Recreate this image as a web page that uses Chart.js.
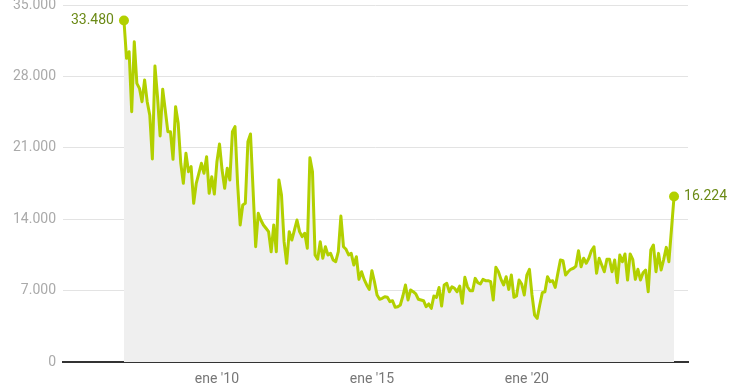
<!DOCTYPE html>
<html>
<head>
<meta charset="utf-8">
<script src="https://cdn.jsdelivr.net/npm/chart.js@4/dist/chart.umd.min.js"></script>
<style>
  html, body { margin: 0; padding: 0; background: #fff; }
  #wrap { width: 740px; height: 389px; position: relative; }
</style>
</head>
<body>
<div id="wrap"><canvas id="c" width="740" height="389"></canvas></div>
<script>
// Monthly values, starting January 2007
const startYear = 2007;
const values = [
  33480, 29770, 30420, 24540, 31400, 27320, 26830, 25520, 27650, 25520,
  24200, 19900, 29020, 26000, 22160, 26740, 24700, 22580, 22580, 19870,
  25030, 23400, 19480, 17520, 20460, 18660, 19150, 15560, 17520, 18500,
  19480, 18500, 20130, 16540, 18170, 16470, 19640, 21370, 18820, 17030,
  18990, 17840, 22580, 23070, 17500, 13430, 15390, 15560, 21600, 22350,
  16860, 11300, 14580, 13920, 13430, 13110, 12780, 10810, 13430, 10810,
  17840, 16370, 11800, 9680, 12780, 11960, 12940, 13920, 12780, 12290,
  12620, 11150, 20030, 18660, 10490, 10070, 11800, 10170, 11300, 10490,
  10650, 10000, 9830, 10810, 14310, 11300, 11050, 10490, 10650, 9510,
  10320, 8100, 8850, 8100, 7550, 7120, 8950, 7870, 6570, 6150,
  6240, 6400, 6340, 5910, 6010, 5360, 5420, 5590, 6470, 7550,
  6080, 7060, 6890, 6670, 6150, 6080, 6010, 5420, 5690, 5260,
  6470, 6340, 7300, 5490, 7550, 7710, 6890, 7380, 7220, 6890,
  7450, 5750, 8300, 7380, 6990, 6990, 8200, 7780, 7650, 8100,
  7970, 7970, 7870, 6080, 9280, 8850, 8100, 7550, 8360, 7120,
  8530, 6340, 6470, 8040, 7650, 6570, 8530, 9090, 6570, 4610,
  4280, 5590, 6800, 6890, 8360, 7870, 7970, 7320, 8690, 10000,
  9930, 8530, 8850, 9090, 9190, 9410, 10910, 9340, 10170, 9680,
  10170, 10910, 11300, 8690, 10170, 9510, 8850, 10070, 10070, 8850,
  10000, 7780, 10490, 9830, 10590, 8040, 10590, 10070, 8100, 9090,
  8040, 8750, 9020, 6890, 10980, 11470, 8850, 10650, 9020, 10070,
  11240, 9830, 13000, 16224
];
// x tick positions (month index from Jan 2007) and their labels
const xTickMonths = [36, 96, 156];
const xTickLabels = ["ene '10", "ene '15", "ene '20"];
// y ticks
const yTicks = [0, 7000, 14000, 21000, 28000, 35000];

function fmt(n) {
  return String(Math.round(n)).replace(/\B(?=(\d{3})+(?!\d))/g, '.');
}

const points = values.map((v, i) => ({ x: i, y: v }));
const lastIdx = values.length - 1;
const pointRadii = values.map((v, i) => (i === 0 || i === lastIdx) ? 5 : 0);

const endLabels = {
  id: 'endLabels',
  afterDatasetsDraw(chart) {
    const meta = chart.getDatasetMeta(0);
    const ctx = chart.ctx;
    ctx.save();
    ctx.font = '14px Roboto';
    ctx.fillStyle = '#6b8a16';
    ctx.textBaseline = 'middle';
    const p0 = meta.data[0];
    ctx.textAlign = 'right';
    ctx.fillText(fmt(values[0]), p0.x - 10, p0.y);
    const pl = meta.data[lastIdx];
    ctx.textAlign = 'left';
    ctx.fillText(fmt(values[lastIdx]), pl.x + 10, pl.y);
    ctx.restore();
  }
};

new Chart(document.getElementById('c'), {
  type: 'line',
  data: {
    datasets: [{
      data: points,
      borderColor: '#b2d000',
      backgroundColor: '#efefef',
      fill: 'origin',
      borderWidth: 3,
      tension: 0,
      pointRadius: pointRadii,
      pointHoverRadius: pointRadii,
      pointBackgroundColor: '#b2d000',
      pointBorderWidth: 0,
      borderJoinStyle: 'round'
    }]
  },
  options: {
    responsive: false,
    animation: false,
    events: [],
    layout: { autoPadding: false, padding: { top: 5, right: 52, left: 0, bottom: 0 } },
    plugins: { legend: { display: false }, tooltip: { enabled: false } },
    scales: {
      x: {
        type: 'linear',
        min: -23.6,
        max: 218.4,
        afterBuildTicks(scale) { scale.ticks = xTickMonths.map(v => ({ value: v })); },
        afterFit(scale) { scale.height = 27; scale.paddingLeft = 0; scale.paddingRight = 0; },
        grid: { display: false, drawTicks: false },
        border: { display: true, color: '#333', width: 2 },
        ticks: {
          padding: 9,
          color: '#777',
          font: { family: 'Roboto', size: 14 },
          maxRotation: 0,
          autoSkip: false,
          callback(v) { const k = xTickMonths.indexOf(v); return k >= 0 ? xTickLabels[k] : ''; }
        }
      },
      y: {
        min: 0,
        max: 35000,
        afterBuildTicks(scale) { scale.ticks = yTicks.map(v => ({ value: v })); },
        afterFit(scale) { scale.width = 63; scale.paddingTop = 0; scale.paddingBottom = 0; },
        grid: { color: '#e3e3e3', lineWidth: 1, drawTicks: false },
        border: { display: false },
        ticks: {
          padding: 7,
          color: '#aaa',
          font: { family: 'Roboto', size: 14 },
          callback(v) { return fmt(v); }
        }
      }
    }
  },
  plugins: [endLabels]
});
</script>
</body>
</html>
